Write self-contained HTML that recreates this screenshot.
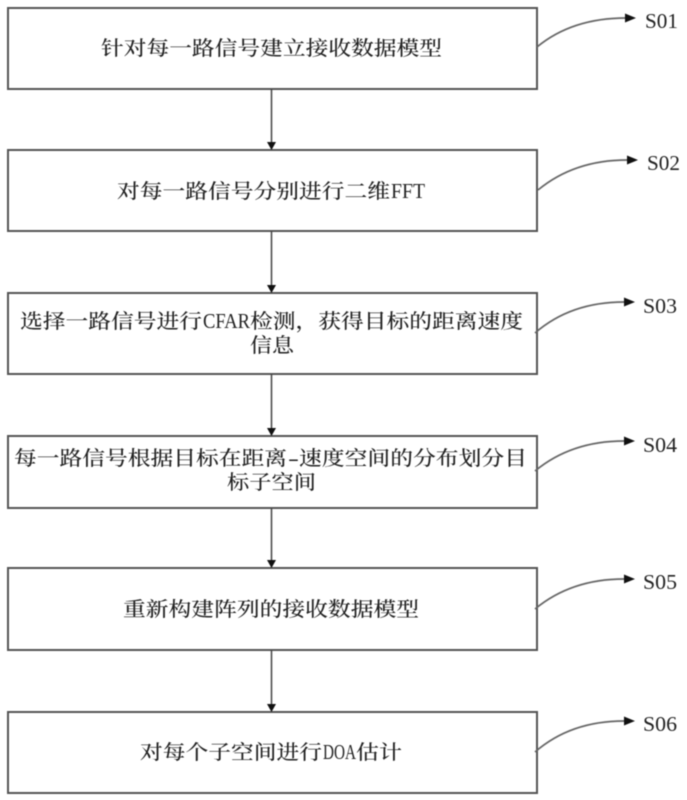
<!DOCTYPE html>
<html><head><meta charset="utf-8"><style>
html,body{margin:0;padding:0;background:#fff;width:687px;height:800px;overflow:hidden}
svg{display:block}
text{font-family:"Liberation Serif","Noto Serif CJK SC",serif;fill:#222;font-weight:500}
.t{font-size:20px}
.l{font-size:21px}
.s{font-size:21px}
.b{fill:#fff;stroke:#555;stroke-width:2}
.a{stroke:#444;stroke-width:1.5;fill:none}
.c{stroke:#666;stroke-width:1.7;fill:none}
.h{fill:#111}
</style></head><body>
<svg width="687" height="800" viewBox="0 0 687 800" xmlns="http://www.w3.org/2000/svg">
<g style="filter:blur(0.4px)">
<rect class="b" x="8" y="8" width="529" height="81"/>
<rect class="b" x="8" y="150" width="529" height="81"/>
<rect class="b" x="8" y="293" width="529" height="81"/>
<rect class="b" x="8" y="436" width="529" height="72"/>
<rect class="b" x="8" y="568" width="529" height="82"/>
<rect class="b" x="8" y="712" width="529" height="81"/>

<path class="a" d="M271.5 89V144M271.5 231V287M271.5 374V430M271.5 508V562M271.5 650V706"/>
<path class="h" d="M267 142h9l-4.500 8zM267 285h9l-4.500 8zM267 428h9l-4.500 8zM267 560h9l-4.500 8zM267 704h9l-4.500 8z"/>

<path class="c" d="M537 47C560 28 590 18 626 18"/>
<path class="c" d="M538 190C561 171 591 160 627 160"/>
<path class="c" d="M535 333C558 313 588 302 624 302"/>
<path class="c" d="M535 471C558 452 588 441 624 441"/>
<path class="c" d="M535 609C558 590 588 579 624 579"/>
<path class="c" d="M535 752C558 732 588 721 624 721"/>
<path class="h" d="M625 13.500l11 4.500-11 4.500zM627 155.500l11 4.500-11 4.500zM624 297.500l11 4.500-11 4.500zM624 436.500l11 4.500-11 4.500zM624 574.500l11 4.500-11 4.500zM624 716.500l11 4.500-11 4.500z"/>

<text class="t" x="101" y="55" textLength="341" lengthAdjust="spacingAndGlyphs">针对每一路信号建立接收数据模型</text>

<text class="t" x="117" y="198" textLength="273" lengthAdjust="spacingAndGlyphs">对每一路信号分别进行二维</text>
<text class="l" x="391" y="198" textLength="34" lengthAdjust="spacingAndGlyphs">FFT</text>

<text class="t" x="20" y="328" textLength="182" lengthAdjust="spacingAndGlyphs">选择一路信号进行</text>
<text class="l" x="203" y="328" textLength="47" lengthAdjust="spacingAndGlyphs">CFAR</text>
<text class="t" x="250" y="328" textLength="273" lengthAdjust="spacingAndGlyphs">检测，获得目标的距离速度</text>
<text class="t" x="250" y="352" textLength="44" lengthAdjust="spacingAndGlyphs">信息</text>

<text class="t" x="14" y="465" textLength="273" lengthAdjust="spacingAndGlyphs">每一路信号根据目标在距离</text>
<text class="t" x="288" y="465" textLength="11" lengthAdjust="spacingAndGlyphs">-</text>
<text class="t" x="299" y="465" textLength="228" lengthAdjust="spacingAndGlyphs">速度空间的分布划分目</text>
<text class="t" x="227" y="489" textLength="89" lengthAdjust="spacingAndGlyphs">标子空间</text>

<text class="t" x="123" y="616" textLength="296" lengthAdjust="spacingAndGlyphs">重新构建阵列的接收数据模型</text>

<text class="t" x="140" y="759" textLength="182" lengthAdjust="spacingAndGlyphs">对每个子空间进行</text>
<text class="l" x="323" y="759" textLength="33" lengthAdjust="spacingAndGlyphs">DOA</text>
<text class="t" x="356" y="759" textLength="46" lengthAdjust="spacingAndGlyphs">估计</text>

<text class="s" x="645" y="28" textLength="33" lengthAdjust="spacingAndGlyphs">S01</text>
<text class="s" x="647" y="170" textLength="33" lengthAdjust="spacingAndGlyphs">S02</text>
<text class="s" x="643" y="313" textLength="34" lengthAdjust="spacingAndGlyphs">S03</text>
<text class="s" x="643" y="452" textLength="34" lengthAdjust="spacingAndGlyphs">S04</text>
<text class="s" x="643" y="589" textLength="34" lengthAdjust="spacingAndGlyphs">S05</text>
<text class="s" x="643" y="731" textLength="34" lengthAdjust="spacingAndGlyphs">S06</text>
</g>
</svg>
</body></html>
